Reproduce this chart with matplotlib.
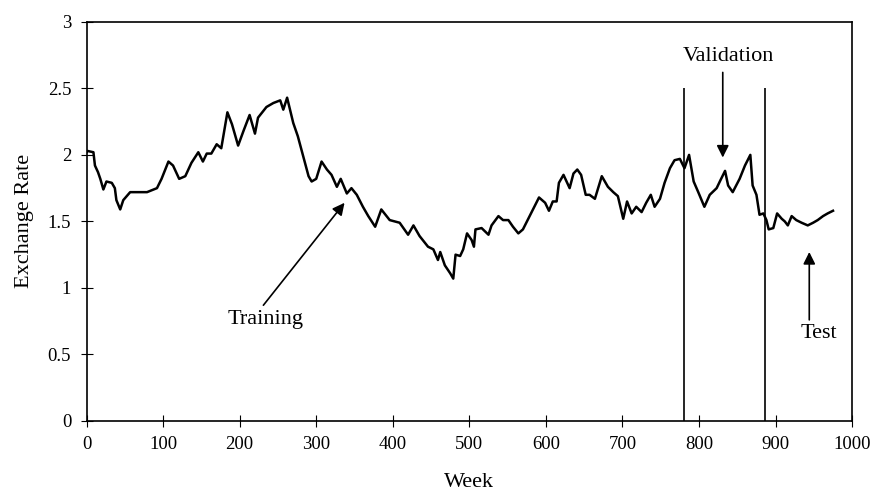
import matplotlib
matplotlib.use("Agg")
import matplotlib.pyplot as plt

plt.rcParams['font.family'] = ['Liberation Serif', 'DejaVu Serif']

# weekly exchange rate
weeks = [0, 1, 9, 11, 15, 18, 22, 26, 33, 37, 39, 44, 48, 57, 79, 92, 98,
         107, 113, 121, 129, 137, 146, 152, 157, 163, 170, 176, 184, 190,
         198, 205, 213, 220, 224, 235, 244, 253, 257, 262, 270, 276, 283,
         290, 294, 300, 307, 314, 320, 327, 332, 340, 346, 353, 361, 368,
         377, 385, 396, 409, 420, 427, 435, 446, 453, 459, 462, 468, 475,
         479, 482, 488, 492, 497, 503, 506, 508, 516, 525, 529, 538, 544,
         551, 557, 564, 570, 577, 583, 591, 599, 604, 609, 614, 617, 623,
         631, 636, 641, 646, 652, 657, 664, 673, 681, 688, 694, 701, 706,
         712, 718, 725, 731, 737, 742, 749, 755, 762, 768, 775, 781, 787,
         793, 799, 807, 814, 823, 828, 834, 838, 844, 853, 860, 867, 870,
         875, 879, 884, 888, 891, 897, 902, 908, 912, 916, 921, 927, 934,
         942, 949, 955, 962, 968, 975]
rate = [2.02, 2.03, 2.02, 1.92, 1.87, 1.82, 1.74, 1.80, 1.79, 1.75, 1.66,
        1.59, 1.66, 1.72, 1.72, 1.75, 1.82, 1.95, 1.92, 1.82, 1.84, 1.94,
        2.02, 1.95, 2.01, 2.01, 2.08, 2.05, 2.32, 2.23, 2.07, 2.18, 2.30,
        2.16, 2.28, 2.36, 2.39, 2.41, 2.34, 2.43, 2.24, 2.14, 1.99, 1.84,
        1.80, 1.82, 1.95, 1.89, 1.85, 1.76, 1.82, 1.71, 1.75, 1.70, 1.61,
        1.54, 1.46, 1.59, 1.51, 1.49, 1.40, 1.47, 1.39, 1.31, 1.29, 1.21,
        1.27, 1.17, 1.11, 1.07, 1.25, 1.24, 1.29, 1.41, 1.36, 1.31, 1.44,
        1.45, 1.40, 1.47, 1.54, 1.51, 1.51, 1.46, 1.41, 1.44, 1.52, 1.59,
        1.68, 1.64, 1.58, 1.65, 1.65, 1.79, 1.85, 1.75, 1.86, 1.89, 1.85,
        1.70, 1.70, 1.67, 1.84, 1.76, 1.72, 1.69, 1.52, 1.65, 1.56, 1.61,
        1.57, 1.64, 1.70, 1.61, 1.67, 1.79, 1.90, 1.96, 1.97, 1.90, 2.00,
        1.80, 1.72, 1.61, 1.70, 1.75, 1.81, 1.88, 1.77, 1.72, 1.82, 1.92,
        2.00, 1.77, 1.70, 1.55, 1.56, 1.51, 1.44, 1.45, 1.56, 1.52, 1.50,
        1.47, 1.54, 1.51, 1.49, 1.47, 1.49, 1.51, 1.54, 1.56, 1.58]

split_weeks = [781, 886]
x_ticks = list(range(0, 1001, 100))
y_ticks = [0, 0.5, 1, 1.5, 2, 2.5, 3]
y_labels = ['0', '0.5', '1', '1.5', '2', '2.5', '3']

# annotation text and arrows: (label, text pos, arrow tail, arrow head)
notes = [
    ('Training', (234, 0.76), (231, 0.87), (337, 1.64)),
    ('Validation', (838, 2.74), (831, 2.62), (831, 1.98)),
    ('Test', (957, 0.66), (944, 0.76), (944, 1.27)),
]

fig = plt.figure(figsize=(8.74, 4.97), dpi=100)
ax = fig.add_axes([0.099, 0.153, 0.876, 0.803])

ax.plot(weeks, rate, color='black', lw=1.8)
ax.vlines(split_weeks, 0, 2.5, color='black', lw=1.2)

for label, txt, tail, head in notes:
    ax.text(txt[0], txt[1], label, ha='center', va='center', fontsize=16)
    ax.annotate('', xy=head, xytext=tail,
                arrowprops=dict(arrowstyle='-|>', color='black', lw=1.2,
                                mutation_scale=18, shrinkA=0, shrinkB=0))

ax.set_xlim(0, 1000)
ax.set_ylim(0, 3)
ax.set_xticks(x_ticks)
ax.set_yticks(y_ticks)
ax.set_yticklabels(y_labels)
ax.tick_params(direction='inout', length=8, width=0.8, labelsize=13.5,
               pad=7, colors='black')
for s in ax.spines.values():
    s.set_linewidth(1.2)

ax.set_xlabel('Week', fontsize=16, labelpad=14)
ax.set_ylabel('Exchange Rate', fontsize=16, labelpad=10)

fig.savefig('out.png', dpi=100)
